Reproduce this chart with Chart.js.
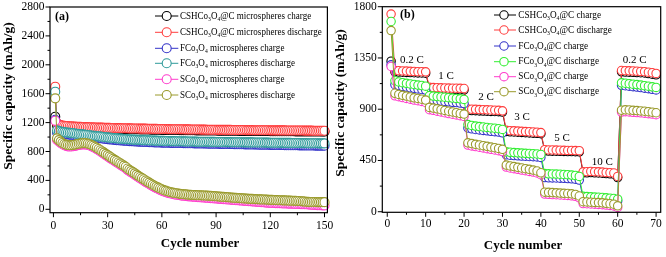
<!DOCTYPE html>
<html><head><meta charset="utf-8">
<script src="https://cdn.jsdelivr.net/npm/chart.js@4.4.1/dist/chart.umd.min.js"></script>
<style>
html,body{margin:0;padding:0;background:#fff;}
#wrap{position:relative;width:666px;height:257px;overflow:hidden;background:#fff;}
.c{position:absolute;top:0;width:333px;height:257px;}
</style></head><body>
<div id="wrap">
<div class="c" style="left:0"><canvas id="ca" width="333" height="257"></canvas></div>
<div class="c" style="left:333px"><canvas id="cb" width="333" height="257"></canvas></div>
</div>
<script>
// ---------- Panel (a): cycling performance, 150 cycles ----------
const cyclesA = Array.from({length: 150}, (_, i) => i + 1);
const aCshCharge = [
1282,1160,1150,1147,1144,1142,1140,1139,1137,1136,
1134,1133,1132,1131,1130,1129,1128,1127,1126,1125,
1124,1123,1122,1121,1120,1119,1119,1118,1117,1116,
1116,1115,1114,1114,1113,1112,1112,1111,1111,1110,
1110,1109,1109,1108,1108,1107,1107,1106,1106,1105,
1105,1104,1104,1103,1103,1102,1102,1101,1101,1100,
1100,1100,1099,1099,1098,1098,1098,1097,1097,1096,
1096,1096,1095,1095,1095,1094,1094,1094,1093,1093,
1093,1092,1092,1092,1091,1091,1091,1090,1090,1090,
1089,1089,1089,1089,1088,1088,1088,1088,1087,1087,
1087,1087,1086,1086,1086,1086,1085,1085,1085,1085,
1084,1084,1084,1084,1083,1083,1083,1083,1083,1082,
1082,1082,1082,1081,1081,1081,1081,1081,1080,1080,
1080,1080,1080,1079,1079,1079,1079,1079,1078,1078,
1078,1078,1078,1077,1077,1077,1077,1077,1076,1076];
const aCshDischarge = [
1697,1192,1172,1165,1160,1157,1154,1152,1150,1148,
1146,1145,1143,1142,1141,1140,1139,1138,1137,1136,
1135,1134,1133,1132,1131,1130,1130,1129,1128,1127,
1127,1126,1125,1125,1124,1123,1123,1122,1122,1121,
1121,1120,1120,1119,1119,1118,1118,1117,1117,1116,
1116,1115,1115,1114,1114,1113,1113,1112,1112,1111,
1111,1111,1110,1110,1109,1109,1109,1108,1108,1107,
1107,1107,1106,1106,1106,1105,1105,1105,1104,1104,
1104,1103,1103,1103,1102,1102,1102,1101,1101,1101,
1100,1100,1100,1100,1099,1099,1099,1099,1098,1098,
1098,1098,1097,1097,1097,1097,1096,1096,1096,1096,
1095,1095,1095,1095,1094,1094,1094,1094,1094,1093,
1093,1093,1093,1092,1092,1092,1092,1092,1091,1091,
1091,1091,1091,1090,1090,1090,1090,1090,1089,1089,
1089,1089,1089,1088,1088,1088,1088,1088,1087,1087];
const aFCharge = [
1240,1062,1056,1051,1047,1044,1040,1037,1034,1031,
1028,1025,1022,1019,1016,1013,1010,1007,1004,1001,
998,995,992,989,986,983,980,977,974,971,
968,966,963,961,958,956,954,952,950,948,
946,944,943,941,940,938,937,936,934,933,
932,931,930,929,928,927,926,925,924,923,
923,922,921,921,920,919,919,918,918,917,
917,916,916,915,915,914,914,913,913,912,
912,911,911,910,910,909,909,908,908,907,
907,906,906,905,905,904,904,903,903,902,
902,901,901,900,900,899,899,898,898,897,
897,896,896,895,895,894,894,893,893,892,
892,891,891,890,890,889,889,888,888,887,
887,887,886,886,886,885,885,885,884,884,
884,883,883,883,882,882,882,881,881,881];
const aFDischarge = [
1628,1092,1082,1076,1072,1068,1064,1061,1058,1055,
1052,1049,1046,1043,1040,1037,1034,1031,1028,1025,
1022,1019,1016,1013,1010,1007,1004,1001,998,995,
992,990,987,985,982,980,978,976,974,972,
970,968,967,965,964,962,961,960,958,957,
956,955,954,953,952,951,950,949,948,947,
947,946,945,945,944,943,943,942,942,941,
941,940,940,939,939,938,938,937,937,936,
936,936,935,935,934,934,934,933,933,932,
932,932,931,931,931,930,930,930,929,929,
929,928,928,928,927,927,927,926,926,926,
925,925,925,924,924,924,923,923,923,922,
922,922,921,921,921,920,920,920,919,919,
919,918,918,918,917,917,917,916,916,916,
915,915,915,914,914,914,913,913,913,912];
const aSCharge = [
1226,960,938,918,900,886,877,871,869,870,
873,878,884,889,894,897,898,896,891,883,
873,861,848,833,817,800,783,766,749,732,
715,698,682,666,650,634,618,602,586,570,
546,529,512,495,478,461,444,428,412,396,
380,365,350,335,321,307,294,281,269,258,
248,239,231,224,218,212,207,202,198,194,
190,187,184,182,179,177,175,173,171,169,
167,165,163,161,159,157,155,153,151,149,
147,145,143,141,139,137,135,133,131,129,
127,125,123,121,119,117,115,113,111,109,
107,105,103,101,99,97,95,93,91,89,
88,87,86,85,84,83,82,81,80,79,
78,77,76,75,74,73,72,71,70,69,
67,65,63,61,59,58,57,56,55,54];
const aSDischarge = [
1536,982,958,937,918,904,895,889,887,888,
891,896,902,907,912,915,916,914,909,901,
891,879,866,851,835,818,801,784,767,750,
733,716,700,684,668,652,636,620,604,588,
565,548,531,514,497,480,463,447,431,415,
399,384,369,354,340,326,313,300,288,277,
267,258,250,243,237,231,226,222,218,214,
211,208,206,204,202,200,199,197,196,195,
194,193,192,191,189,188,186,184,182,180,
178,176,174,172,170,168,166,164,162,160,
158,156,155,153,151,150,148,147,145,144,
142,141,140,138,137,136,135,134,132,131,
130,129,128,127,126,125,124,123,122,121,
120,119,118,117,115,114,112,110,107,104,
103,102,102,101,101,100,100,100,99,99];
const aLabels = [
'CSHCo3O4@C microspheres charge','CSHCo3O4@C microspheres discharge',
'FCo3O4 microspheres charge','FCo3O4 microspheres discharge',
'SCo3O4 microspheres charge','SCo3O4 microspheres discharge'];
const aXTicks = [0, 30, 60, 90, 120, 150];
const aYTicks = [0, 400, 800, 1200, 1600, 2000, 2400, 2800];

// ---------- Panel (b): rate performance, 70 cycles ----------
const cyclesB = Array.from({length: 70}, (_, i) => i + 1);
const bCshCharge = [
1322,1228,1226,1225,1223,1222,1220,1219,1218,1216,
1080,1078,1077,1076,1075,1074,1073,1072,1071,1070,
890,888,887,885,884,883,881,880,878,875,
705,702,700,698,696,694,692,690,688,685,
535,533,532,531,530,529,528,528,527,526,
340,342,344,342,340,338,335,333,330,300,
1228,1226,1225,1224,1222,1220,1218,1213,1208,1202];
const bCshDischarge = [
1735,1240,1238,1236,1235,1233,1232,1230,1229,1228,
1092,1090,1089,1088,1087,1086,1085,1084,1083,1082,
902,900,899,897,896,895,893,892,890,886,
715,712,710,708,706,704,702,700,698,695,
545,543,542,541,540,539,538,538,537,536,
350,352,354,352,350,348,345,343,340,310,
1240,1238,1237,1236,1234,1232,1230,1225,1220,1214];
const bFCharge = [
1290,1115,1108,1100,1094,1088,1083,1078,1073,1068,
985,980,976,972,968,965,961,958,954,950,
735,728,722,718,714,710,706,703,699,693,
500,496,493,491,489,487,485,483,481,477,
300,298,297,296,295,293,291,289,286,278,
118,116,114,112,110,108,106,103,100,95,
1110,1106,1102,1098,1094,1090,1085,1080,1075,1069];
const bFDischarge = [
1670,1150,1140,1133,1127,1122,1117,1112,1108,1102,
1020,1015,1011,1008,1005,1001,998,995,991,986,
765,758,752,748,744,740,736,733,729,723,
526,522,519,517,515,513,511,509,507,503,
335,333,332,331,329,327,325,322,319,310,
135,133,131,129,127,125,122,119,116,110,
1132,1128,1124,1120,1116,1112,1107,1102,1097,1091];
const bSCharge = [
1275,1018,1010,1002,995,988,980,975,968,960,
896,890,883,876,869,862,856,850,843,837,
585,578,572,566,560,554,548,542,536,528,
392,384,378,372,366,360,354,348,340,325,
155,153,151,149,147,145,143,140,135,122,
72,70,68,66,64,62,58,55,51,38,
875,878,876,873,871,868,865,861,857,852];
const bSDischarge = [
1590,1040,1030,1022,1015,1008,1000,995,988,980,
916,910,903,896,889,882,876,870,863,857,
605,598,592,586,580,574,568,562,556,548,
410,402,396,390,384,378,372,366,358,342,
172,170,168,166,164,162,160,157,152,138,
88,86,84,82,80,78,74,70,66,52,
892,895,893,890,888,885,882,878,874,869];
const bLabels = [
'CSHCo3O4@C charge','CSHCo3O4@C discharge',
'FCo3O4@C charge','FCo3O4@C discharge',
'SCo3O4@C charge','SCo3O4@C discharge'];
const bXTicks = [0, 10, 20, 30, 40, 50, 60, 70];
const bYTicks = [0, 450, 900, 1350, 1800];
const rateLabels = ['0.2 C', '1 C', '2 C', '3 C', '5 C', '10 C', '0.2 C'];
const rateX = [6.4, 15.3, 25.7, 35.1, 45.5, 56.0, 64.4];
const rateY = [1331, 1190, 1003, 828, 644, 439, 1331];

// ---------- drawing ----------
const SERIF = '"Liberation Serif", "Times New Roman", serif';

function richText(ctx, text, x, y, size, hs) {
  // digits right after a letter are drawn as subscripts (Co3O4)
  ctx.save();
  ctx.translate(x, y);
  ctx.scale(hs, 1);
  let cx = 0;
  for (let i = 0; i < text.length; i++) {
    const ch = text[i];
    const sub = /[0-9]/.test(ch) && i > 0 && /[A-Za-z]/.test(text[i - 1]);
    if (sub) {
      ctx.font = (size * 0.62) + 'px ' + SERIF;
      ctx.fillText(ch, cx, size * 0.3);
    } else {
      ctx.font = size + 'px ' + SERIF;
      ctx.fillText(ch, cx, 0);
    }
    cx += ctx.measureText(ch).width;
  }
  ctx.restore();
}

const framePlugin = {
  id: 'frame',
  afterDraw(chart, args, o) {
    const {ctx, chartArea: a} = chart;
    const xs = chart.scales.x, ys = chart.scales.y;
    ctx.save();
    ctx.strokeStyle = '#000';
    ctx.lineWidth = 1.2;
    ctx.strokeRect(a.left, a.top, a.right - a.left, a.bottom - a.top);
    ctx.lineWidth = 1;
    ctx.beginPath();
    const xt = o.xTicks, yt = o.yTicks;
    xt.forEach((v, i) => {
      const p = xs.getPixelForValue(v);
      ctx.moveTo(p, a.bottom); ctx.lineTo(p, a.bottom + 4.5);
      if (i < xt.length - 1) {
        const m = xs.getPixelForValue((v + xt[i + 1]) / 2);
        ctx.moveTo(m, a.bottom); ctx.lineTo(m, a.bottom + 2.5);
      }
    });
    yt.forEach((v, i) => {
      const p = ys.getPixelForValue(v);
      ctx.moveTo(a.left, p); ctx.lineTo(a.left - 4.5, p);
      if (i < yt.length - 1) {
        const m = ys.getPixelForValue((v + yt[i + 1]) / 2);
        ctx.moveTo(a.left, m); ctx.lineTo(a.left - 2.5, m);
      }
    });
    ctx.stroke();

    ctx.fillStyle = '#000';
    // axis titles
    ctx.textAlign = 'center'; ctx.textBaseline = 'middle';
    ctx.font = 'bold 13px ' + SERIF;
    ctx.fillText('Cycle number', o.xTitle[0], o.xTitle[1]);
    ctx.save();
    ctx.translate(o.yTitle[0], o.yTitle[1]);
    ctx.rotate(-Math.PI / 2);
    ctx.font = 'bold 13.5px ' + SERIF;
    ctx.fillText('Specific capacity (mAh/g)', 0, 0);
    ctx.restore();
    // panel letter
    ctx.font = 'bold 12px ' + SERIF;
    ctx.textAlign = 'left';
    ctx.fillText(o.panel[0], o.panel[1], o.panel[2]);

    // rate annotations at data positions
    ctx.font = '11px ' + SERIF;
    ctx.textAlign = 'center';
    (o.notes || []).forEach((t, i) => {
      ctx.fillText(t, xs.getPixelForValue(o.notesX[i]), ys.getPixelForValue(o.notesY[i]));
    });

    // legend
    const L = o.legend;
    chart.data.datasets.forEach((ds, i) => {
      const y = L.rows[i];
      ctx.strokeStyle = ds.borderColor;
      ctx.lineWidth = 1;
      ctx.beginPath(); ctx.moveTo(L.x0, y); ctx.lineTo(L.x1, y); ctx.stroke();
      ctx.beginPath(); ctx.arc(L.cx, y, L.r, 0, Math.PI * 2);
      ctx.fillStyle = '#fff'; ctx.fill();
      ctx.lineWidth = 1.1; ctx.stroke();
      ctx.fillStyle = '#000';
      ctx.textAlign = 'left'; ctx.textBaseline = 'middle';
      richText(ctx, ds.label, L.tx, y, L.size, L.hs);
    });
    ctx.restore();
  }
};

function makeChart(id, P) {
  const tickFont = {family: SERIF, size: 11.5};
  return new Chart(document.getElementById(id), {
    type: 'line',
    data: {
      datasets: P.series.map((s, i) => ({
        label: P.labels[i],
        data: P.x.map((c, j) => ({x: c, y: s[j]})),
        borderColor: P.colors[i],
        backgroundColor: '#fff',
        pointBackgroundColor: '#fff',
        pointBorderColor: P.colors[i],
        pointRadius: P.r, pointHoverRadius: P.r,
        pointBorderWidth: 1.1, borderWidth: 1,
        tension: 0, order: -i, clip: false
      }))
    },
    options: {
      responsive: false, animation: false, events: [],
      layout: {padding: P.pad},
      plugins: {legend: {display: false}, tooltip: {enabled: false}, frame: P.frame},
      scales: {
        x: {
          type: 'linear', min: P.xr[0], max: P.xr[1],
          afterBuildTicks: s => { s.ticks = P.frame.xTicks.map(v => ({value: v})); },
          afterFit: s => { s.height = P.xH; s.paddingLeft = 0; s.paddingRight = 0; },
          grid: {display: false, drawTicks: false}, border: {display: false},
          ticks: {font: tickFont, color: '#000', padding: P.xPad, maxRotation: 0, autoSkip: false, callback: v => String(v)}
        },
        y: {
          type: 'linear', min: P.yr[0], max: P.yr[1],
          afterBuildTicks: s => { s.ticks = P.frame.yTicks.map(v => ({value: v})); },
          afterFit: s => { s.width = P.yW; s.paddingTop = 0; s.paddingBottom = 0; },
          grid: {display: false, drawTicks: false}, border: {display: false},
          ticks: {font: tickFont, color: '#000', padding: 5.5, autoSkip: false, callback: v => String(v)}
        }
      }
    },
    plugins: [framePlugin]
  });
}

makeChart('ca', {
  x: cyclesA,
  series: [aCshCharge, aCshDischarge, aFCharge, aFDischarge, aSCharge, aSDischarge],
  labels: aLabels,
  colors: ['#000000', '#ff3c3c', '#3232c8', '#2f9a9a', '#ff3ccc', '#9a9a2c'],
  r: 4.5, pad: {left: 0, right: 4, top: 7, bottom: 0},
  xr: [-1.9, 151.6], yr: [-47, 2800], xH: 44.3, yW: 50, xPad: 6,
  frame: {
    xTicks: aXTicks, yTicks: aYTicks,
    xTitle: [200, 244], yTitle: [9, 96], panel: ['(a)', 55, 17],
    legend: {x0: 155, cx: 166.7, x1: 178.3, tx: 180, r: 4.5, size: 10.5, hs: 0.86, rows: [16, 32.3, 48.3, 63.3, 79.3, 95]}
  }
});

makeChart('cb', {
  x: cyclesB,
  series: [bCshCharge, bCshDischarge, bFCharge, bFDischarge, bSCharge, bSDischarge],
  labels: bLabels,
  colors: ['#000000', '#ff3c3c', '#3232c8', '#33ee33', '#ff3ccc', '#9a9a2c'],
  r: 4.2, pad: {left: 0, right: 3, top: 6.7, bottom: 0},
  xr: [-1.29, 71.2], yr: [-5, 1800], xH: 44.7, yW: 49.3, xPad: 5,
  frame: {
    xTicks: bXTicks, yTicks: bYTicks,
    xTitle: [190, 246], yTitle: [8, 103], panel: ['(b)', 67, 15],
    notes: rateLabels, notesX: rateX, notesY: rateY,
    legend: {x0: 161, cx: 171, x1: 183, tx: 185.3, r: 4.2, size: 10.5, hs: 0.88, rows: [15, 30, 46, 61.7, 76.7, 91.7]}
  }
});
</script>
</body></html>
